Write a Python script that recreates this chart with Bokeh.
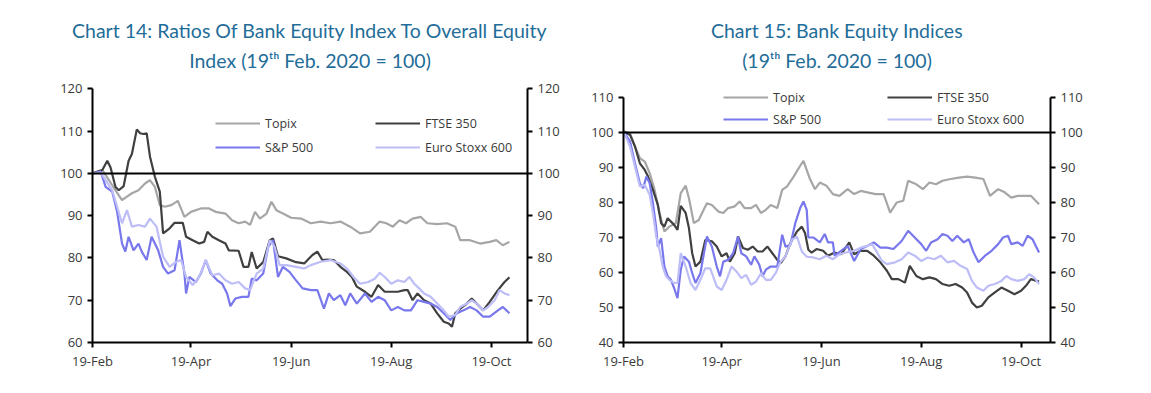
from bokeh.plotting import figure
from bokeh.models import Range1d, LinearAxis, FixedTicker, Span, Legend, LegendItem, Title
from bokeh.layouts import row
from bokeh.embed import file_html
from bokeh.resources import INLINE

# ---------------- data ----------------
TICK_DAYS = [0, 60, 121, 182, 243]          # days since 19-Feb-2020
TICK_LABELS = ["19-Feb", "19-Apr", "19-Jun", "19-Aug", "19-Oct"]
SERIES_NAMES = ["Topix", "FTSE 350", "S&P 500", "Euro Stoxx 600"]

# Chart 14: ratios of bank equity index to overall equity index
c14_topix_x = [0, 6, 10, 14, 18, 21, 24, 28, 32, 35, 38, 41, 44, 48, 52, 56, 60, 66, 71, 75, 81, 85, 89, 93, 96, 99, 102, 106, 109, 112, 116, 121, 127, 133, 139, 145, 151, 157, 163, 169, 175, 179, 183, 187, 191, 195, 200, 204, 210, 216, 221, 224, 230, 236, 242, 246, 250, 254]
c14_topix_y = [100, 100.8, 98.4, 96, 93.7, 94.5, 95.3, 96, 97.6, 98.4, 96.8, 92.5, 92.1, 92.5, 93.5, 89.7, 90.9, 91.7, 91.7, 90.9, 90.5, 88.9, 88.2, 88.6, 87.8, 90.9, 89.3, 90.5, 93.3, 91.3, 90.5, 89.5, 89.3, 88.2, 88.6, 88.2, 88.6, 87.4, 85.8, 86.2, 88.6, 88.2, 87.4, 88.9, 88.2, 89.3, 89.7, 88.2, 88, 88.2, 87.4, 84.2, 84.2, 83.4, 83.8, 84.2, 83, 83.8]

c14_ftse_x = [0, 6, 9, 11, 14, 16, 19, 22, 24, 27, 29, 31, 33, 35, 38, 41, 43, 47, 50, 55, 57, 61, 65, 68, 70, 73, 77, 81, 83, 89, 92, 95, 97, 100, 104, 108, 110, 113, 118, 124, 129, 131, 134, 137, 140, 143, 147, 151, 155, 158, 161, 166, 170, 174, 178, 182, 186, 190, 192, 195, 198, 202, 206, 210, 214, 217, 219, 221, 224, 228, 231, 234, 238, 242, 247, 251, 254]
c14_ftse_y = [100, 100.8, 103, 101.4, 96.8, 96, 97, 103, 104.6, 110.4, 109.5, 109.3, 109.5, 104, 99.2, 95.7, 85.8, 87, 88.3, 88.3, 85, 84.2, 83.4, 83.8, 86.2, 85, 84.2, 83.4, 81.8, 81.7, 77.9, 77.9, 81.4, 77.5, 79, 84.2, 84.6, 80.4, 79.9, 79, 78.7, 79.5, 80.7, 81.5, 79.5, 79.6, 79.5, 77.9, 76.7, 75.5, 73.2, 72, 70.8, 73.6, 72, 72, 72, 72.4, 72.4, 70, 71.6, 70, 69.2, 66.9, 64.9, 64.5, 63.7, 66.9, 68, 69.2, 70.4, 69.2, 67.6, 69.6, 72.4, 74.3, 75.4]

c14_sp_x = [0, 5, 8, 12, 15, 18, 20, 22, 25, 28, 30, 33, 36, 40, 43, 46, 50, 53, 56, 57, 59, 63, 66, 69, 72, 76, 79, 82, 84, 87, 91, 95, 97, 100, 104, 107, 110, 113, 116, 120, 124, 128, 133, 137, 141, 144, 147, 151, 154, 157, 161, 166, 170, 174, 178, 182, 186, 190, 194, 198, 202, 206, 210, 214, 218, 222, 226, 230, 234, 238, 242, 247, 250, 254]
c14_sp_y = [100, 100.4, 96.8, 95.7, 90.9, 83.4, 81.5, 85, 81.8, 83.4, 81.5, 79.5, 85, 81.8, 77.9, 76.3, 77.1, 84.2, 76.3, 71.6, 75.5, 74.3, 76.3, 79.5, 76.3, 74.7, 73.9, 71.6, 68.6, 70.4, 70.8, 70.8, 75.1, 74.7, 76.3, 82.6, 84.2, 75.5, 77.9, 76.7, 74.7, 72.8, 72.4, 72.4, 68, 71.6, 70, 71.2, 68.8, 71.6, 69.2, 71.6, 69.6, 70.8, 70, 67.6, 68.4, 67.6, 67.6, 70, 69.6, 69.2, 68.4, 66.9, 65.3, 66.9, 67.6, 68.4, 67.6, 66.1, 66.1, 67.6, 68.4, 66.9]

c14_euro_x = [0, 5, 8, 12, 15, 18, 21, 24, 28, 32, 35, 39, 43, 47, 51, 54, 57, 61, 65, 69, 73, 77, 81, 85, 89, 93, 96, 100, 104, 108, 111, 114, 118, 124, 129, 133, 139, 145, 151, 155, 159, 163, 168, 172, 175, 178, 182, 186, 190, 193, 196, 199, 202, 206, 210, 214, 217, 221, 224, 228, 231, 234, 238, 241, 245, 248, 251, 254]
c14_euro_y = [100, 100.2, 98.4, 96, 92.1, 88.2, 91.3, 87.4, 87.8, 87.4, 89.3, 87.4, 80.3, 77.9, 79.1, 79.5, 75.5, 73.6, 75.5, 79.5, 75.9, 76.3, 74.7, 73.9, 74.3, 72.8, 72.4, 76.3, 77.5, 84.2, 82.6, 78.3, 78.3, 77.9, 77.5, 78.3, 79.1, 79.5, 78.7, 77.5, 75.5, 73.9, 74.3, 75.1, 76.5, 75.5, 73.9, 74.7, 74.3, 75.5, 73.9, 72.8, 71.6, 70.8, 69.2, 67.6, 66.1, 66.5, 68.4, 69.2, 70, 69.2, 67.6, 68.4, 70, 72.4, 71.6, 71.2]

# Chart 15: bank equity indices
c15_topix_x = [0, 4, 7, 10, 13, 16, 19, 22, 25, 28, 32, 35, 38, 40, 43, 46, 49, 51, 54, 58, 61, 64, 68, 71, 74, 78, 81, 84, 87, 90, 94, 97, 100, 104, 108, 110, 114, 117, 120, 124, 128, 132, 137, 141, 145, 149, 154, 159, 163, 167, 171, 174, 179, 183, 187, 191, 195, 200, 205, 210, 215, 220, 224, 229, 233, 237, 241, 245, 249, 254]
c15_topix_y = [100.3, 99.8, 96, 92.7, 91.7, 88.4, 83.6, 77, 71.7, 73.1, 74.1, 82.7, 84.8, 81.2, 74.1, 75, 77.9, 79.8, 79.3, 77.4, 77, 78.4, 78.9, 80.3, 78.4, 78.4, 79.3, 77, 77.9, 79.3, 78.4, 83.6, 84.6, 87.4, 90.5, 91.9, 86.7, 83.8, 85.7, 84.8, 82.4, 81.9, 83.8, 82.4, 83.3, 82.9, 82.4, 82.4, 77.1, 80, 80.5, 86.2, 85.2, 83.8, 85.7, 85.2, 86.2, 86.7, 87.1, 87.4, 87.1, 86.7, 81.9, 83.8, 82.9, 81.4, 81.9, 81.9, 81.9, 79.5]

c15_ftse_x = [0, 4, 7, 10, 13, 15, 18, 21, 23, 25, 27, 31, 33, 35, 38, 40, 42, 44, 47, 50, 54, 57, 60, 63, 65, 68, 70, 73, 76, 79, 82, 85, 88, 91, 94, 96, 99, 102, 106, 109, 111, 113, 115, 118, 122, 125, 129, 133, 138, 141, 145, 149, 153, 157, 161, 164, 168, 172, 175, 179, 183, 187, 191, 195, 199, 203, 207, 210, 213, 216, 219, 223, 227, 231, 235, 239, 243, 246, 249, 254]
c15_ftse_y = [100.3, 99.3, 96, 91.2, 89.3, 87.4, 83.6, 79.3, 74.1, 73.1, 75.5, 73.6, 72.2, 79, 77, 72.7, 65.5, 61.7, 63.1, 69.3, 68.9, 67.4, 64.6, 65.5, 63.1, 65.5, 70.3, 67, 66.5, 67.4, 66, 66, 67.4, 65.5, 63.6, 62.7, 64.6, 68.4, 71.7, 73.1, 71.2, 66.5, 65.7, 66.7, 66.2, 64.8, 65.7, 65.2, 68.6, 65.2, 66.2, 66.2, 64.8, 62.9, 60.5, 58.1, 58.1, 57.1, 61.9, 59, 58.1, 58.6, 58.1, 56.7, 56.2, 56.7, 55.7, 54.3, 51.4, 50, 50.5, 52.9, 54.3, 55.7, 54.8, 53.8, 54.8, 56.2, 58.1, 57.4]

c15_sp_x = [0, 4, 7, 10, 12, 14, 16, 18, 20, 21, 23, 25, 27, 29, 31, 33, 35, 37, 40, 42, 44, 47, 51, 54, 57, 59, 61, 64, 67, 70, 72, 75, 78, 80, 83, 85, 87, 90, 94, 97, 99, 102, 105, 108, 110, 112, 113, 116, 120, 123, 125, 128, 129, 133, 137, 141, 145, 149, 153, 157, 161, 165, 170, 174, 178, 182, 185, 188, 192, 195, 198, 201, 204, 208, 211, 214, 217, 221, 225, 229, 232, 235, 237, 241, 244, 247, 250, 254]
c15_sp_y = [100.3, 97.4, 91.2, 85.5, 84.1, 87.4, 85.5, 79.8, 72.7, 67.4, 69.8, 61.7, 58.9, 57.9, 55.5, 52.7, 60.8, 64.6, 63.1, 59.8, 57, 59.8, 70.3, 67.4, 61.7, 58.9, 63.1, 63.6, 65.5, 70.3, 65.5, 64.6, 62.2, 64.6, 62.2, 58.9, 60.8, 61.7, 61.7, 70.8, 67.4, 67.9, 74.1, 78.4, 80.3, 77.9, 70, 70, 68.6, 71, 68.6, 68.6, 64.8, 66.2, 67.6, 63.3, 66.7, 67.6, 68.6, 67.1, 67.1, 66.7, 69, 71.9, 70, 68.1, 66.2, 68.6, 69.5, 71, 70.5, 69, 70.5, 68.6, 69.5, 65.7, 62.9, 64.8, 66.2, 68.1, 70, 70.5, 68.1, 68.6, 67.6, 70.5, 69.5, 65.7]

c15_euro_x = [0, 4, 7, 10, 13, 16, 18, 20, 22, 24, 26, 28, 31, 33, 35, 38, 41, 44, 47, 50, 53, 57, 60, 63, 66, 69, 72, 75, 78, 81, 84, 87, 90, 93, 96, 99, 103, 106, 109, 112, 116, 120, 124, 128, 132, 136, 141, 145, 149, 152, 155, 158, 161, 166, 170, 174, 178, 182, 186, 190, 194, 198, 202, 206, 210, 213, 216, 220, 223, 227, 231, 234, 237, 241, 245, 248, 251, 254]
c15_euro_y = [100.3, 96, 90.3, 84.6, 85, 82.2, 77, 70.3, 66.5, 61.7, 58.9, 57.9, 57, 57, 65.5, 61.7, 57, 55, 57.9, 61.2, 61.2, 56, 55, 57.9, 61.7, 60.3, 58.4, 59.3, 56.5, 57.4, 59.8, 57.9, 57.9, 59.8, 63.1, 64.6, 69.3, 70.3, 66, 64.5, 64.3, 63.8, 64.8, 63.8, 65.2, 65.7, 66.2, 67.1, 67.6, 68.1, 65.7, 63.3, 62.4, 62.9, 63.8, 65.7, 64.8, 63.3, 64.3, 63.8, 64.8, 62.9, 63.3, 61.9, 61, 57.6, 55.7, 54.8, 56.2, 56.7, 57.6, 59, 58.1, 57.6, 58.1, 59.5, 58.6, 56.7]

# ---------------- styling ----------------
COLORS = ["#a6a6a6", "#404040", "#7878ec", "#bdbdf7"]
TITLE_COLOR = "#1f6d99"
TITLE_FONT = "Lato"
TICK_FONT = "Open Sans"
FRAME_H = 258


def style_axis(ax, font_size="13px"):
    ax.axis_line_width = 2
    ax.axis_line_color = "black"
    ax.major_tick_line_width = 2
    ax.major_tick_line_color = "black"
    ax.major_tick_out = 5
    ax.major_tick_in = 0
    ax.minor_tick_out = 0
    ax.minor_tick_in = 0
    ax.major_label_text_font = TICK_FONT
    ax.major_label_text_font_size = font_size
    ax.major_label_text_color = "#3a3a3a"
    ax.major_label_standoff = 5


def style_title(t, standoff):
    t.align = "center"
    t.text_font = TITLE_FONT
    t.text_font_size = "19.5px"
    t.text_font_style = "normal"
    t.text_color = TITLE_COLOR
    t.standoff = standoff


def make_chart(title1, title2, xs, ys, y_lo, y_top, y_view_hi, x_end, frame_w,
               b_left, b_right, leg_locs, leg_spacing):
    p = figure(frame_width=frame_w, frame_height=FRAME_H,
               x_range=Range1d(0, x_end), y_range=Range1d(y_lo, y_view_hi),
               min_border_left=b_left, min_border_right=b_right,
               min_border_top=84, min_border_bottom=40,
               output_backend="svg", toolbar_location=None, title=title1)
    # outer (first) line
    style_title(p.title, -15)
    # inner line, closest to the frame
    t2 = Title(text=title2)
    style_title(t2, 25)
    p.add_layout(t2, "above")

    p.grid.visible = False
    p.outline_line_color = None
    p.background_fill_color = "white"
    p.border_fill_color = "white"

    yticks = list(range(y_lo, y_top + 1, 10))
    p.yaxis.ticker = FixedTicker(ticks=yticks)
    p.yaxis.bounds = (y_lo, y_top)
    style_axis(p.yaxis[0])
    raxis = LinearAxis(ticker=FixedTicker(ticks=yticks), bounds=(y_lo, y_top))
    style_axis(raxis)
    p.add_layout(raxis, "right")

    p.xaxis.ticker = FixedTicker(ticks=TICK_DAYS)
    p.xaxis.major_label_overrides = {d: lab for d, lab in zip(TICK_DAYS, TICK_LABELS)}
    style_axis(p.xaxis[0])
    p.xaxis.major_label_standoff = 4

    p.add_layout(Span(location=100, dimension="width", line_color="black", line_width=2))

    rends = []
    for x, y, c in zip(xs, ys, COLORS):
        rends.append(p.line(x, y, line_color=c, line_width=2.2))

    for (vx, vy), idx in zip(leg_locs, [(0, 2), (1, 3)]):
        items = [LegendItem(label=SERIES_NAMES[i], renderers=[rends[i]]) for i in idx]
        leg = Legend(items=items, location=(vx, vy), padding=0, margin=0,
                     spacing=leg_spacing, glyph_width=45, glyph_height=20,
                     label_height=20, label_standoff=5, label_text_font=TICK_FONT,
                     label_text_font_size="12.5px", label_text_color="#3a3a3a",
                     border_line_color=None, background_fill_alpha=0)
        p.add_layout(leg)
    return p


p1 = make_chart("Chart 14: Ratios Of Bank Equity Index To Overall Equity",
                "Index (19\u1d57\u02b0 Feb. 2020 = 100)",
                [c14_topix_x, c14_ftse_x, c14_sp_x, c14_euro_x],
                [c14_topix_y, c14_ftse_y, c14_sp_y, c14_euro_y],
                60, 120, 121.02, 265, 435, 92, 48,
                [(123, 185), (283, 185)], 4)

p2 = make_chart("Chart 15: Bank Equity Indices",
                "(19\u1d57\u02b0 Feb. 2020 = 100)",
                [c15_topix_x, c15_ftse_x, c15_sp_x, c15_euro_x],
                [c15_topix_y, c15_ftse_y, c15_sp_y, c15_euro_y],
                40, 110, 113.71, 261, 427, 48, 50,
                [(100, 213), (264, 213)], 2)

layout = row(p1, p2)
open("out.html", "w").write(file_html(layout, INLINE))
